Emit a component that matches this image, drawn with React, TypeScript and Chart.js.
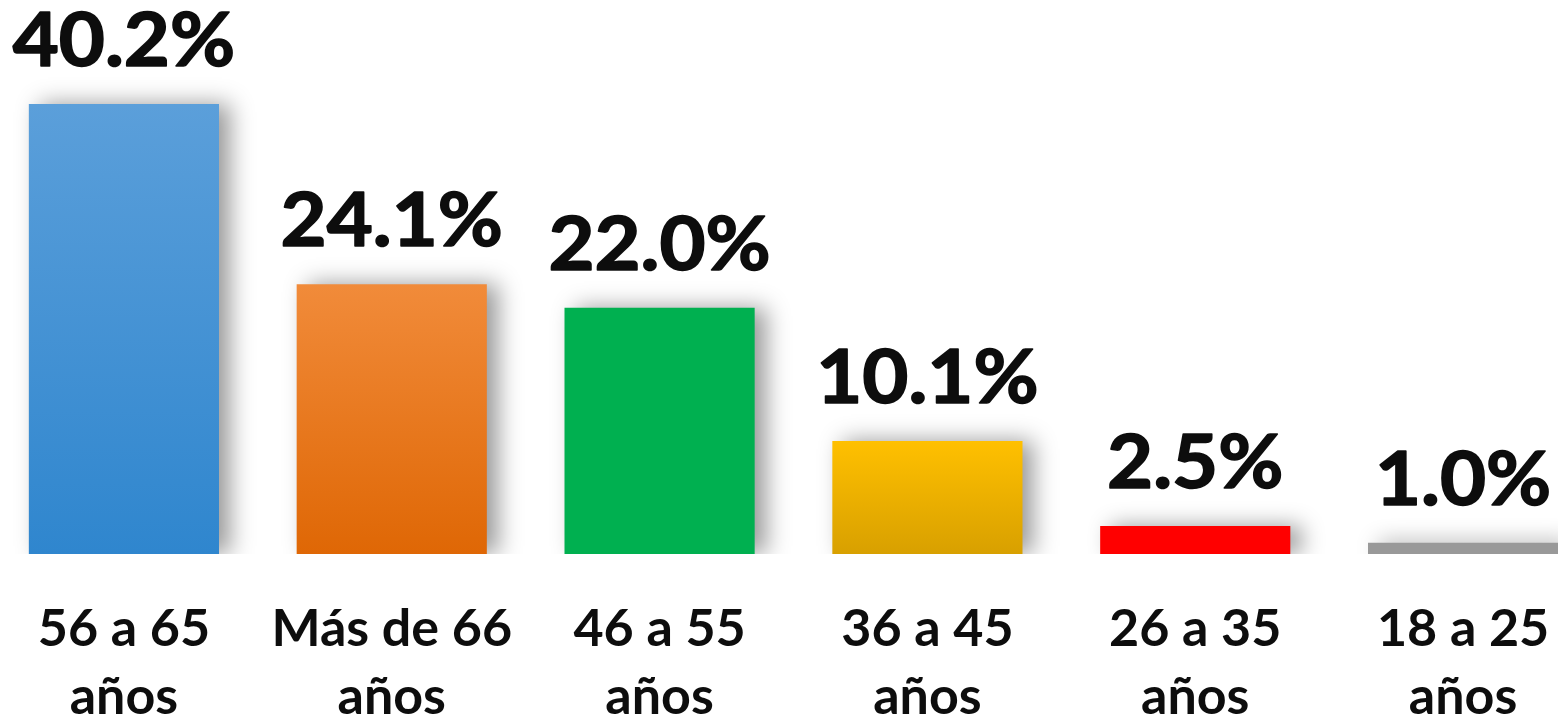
import React, { useEffect, useRef } from "react";
import { Chart, registerables } from "chart.js";

Chart.register(...registerables);

const categories: string[][] = [
  ["56 a 65", "años"],
  ["Más de 66", "años"],
  ["46 a 55", "años"],
  ["36 a 45", "años"],
  ["26 a 35", "años"],
  ["18 a 25", "años"],
];
const values: number[] = [40.2, 24.1, 22.0, 10.1, 2.5, 1.0];
const valueLabels: string[] = ["40.2%", "24.1%", "22.0%", "10.1%", "2.5%", "1.0%"];
const topColors: string[] = ["#5B9FDA", "#F18B3A", "#00B050", "#FFC000", "#FF0000", "#999999"];
const bottomColors: string[] = ["#2F86CE", "#DF6705", "#00B050", "#D8A000", "#FF0000", "#999999"];

const CANVAS_W = 1607;
const CANVAS_H = 719;

const shadowPlugin = {
  id: "barShadow",
  beforeDatasetDraw(chart: any) {
    const ctx = chart.ctx;
    ctx.save();
    ctx.shadowColor = "rgba(0,0,0,0.4)";
    ctx.shadowBlur = 22;
    ctx.shadowOffsetX = 11;
    ctx.shadowOffsetY = 0;
  },
  afterDatasetDraw(chart: any) {
    chart.ctx.restore();
  },
};

const labelPlugin = {
  id: "valueLabels",
  afterDatasetsDraw(chart: any) {
    const ctx = chart.ctx;
    const meta = chart.getDatasetMeta(0);
    ctx.save();
    ctx.fillStyle = "#0d0d0d";
    ctx.strokeStyle = "#0d0d0d";
    ctx.lineWidth = 1.6;
    ctx.lineJoin = "round";
    ctx.font = "bold 75px Lato";
    ctx.textAlign = "center";
    ctx.textBaseline = "alphabetic";
    meta.data.forEach((el: any, i: number) => {
      ctx.save();
      ctx.translate(el.x, el.y - 38);
      ctx.scale(1.06, 1);
      ctx.fillText(valueLabels[i], 0, 0);
      ctx.strokeText(valueLabels[i], 0, 0);
      ctx.restore();
    });
    ctx.restore();
  },
};

export default function App() {
  const ref = useRef<HTMLCanvasElement | null>(null);
  useEffect(() => {
    if (!ref.current) return;
    const chart = new Chart(ref.current, {
      type: "bar",
      data: {
        labels: categories,
        datasets: [
          {
            data: values,
            backgroundColor: (c: any) => {
              const chartObj = c.chart;
              const area = chartObj.chartArea;
              if (!area || c.dataIndex === undefined) return topColors[0];
              const i = c.dataIndex;
              const yScale = chartObj.scales.y;
              const top = yScale.getPixelForValue(values[i]);
              const bottom = yScale.getPixelForValue(0);
              const g = chartObj.ctx.createLinearGradient(0, top, 0, bottom);
              g.addColorStop(0, topColors[i]);
              g.addColorStop(1, bottomColors[i]);
              return g;
            },
            borderWidth: 0,
            categoryPercentage: 1,
            barPercentage: 0.71,
          },
        ],
      },
      options: {
        responsive: false,
        animation: false,
        devicePixelRatio: 1,
        layout: { padding: 0 },
        plugins: {
          legend: { display: false },
          tooltip: { enabled: false },
          title: { display: false },
        },
        scales: {
          x: {
            grid: { display: false, drawTicks: false },
            border: { display: false },
            ticks: {
              autoSkip: false,
              maxRotation: 0,
              minRotation: 0,
              padding: 41,
              color: "#0d0d0d",
              font: { family: "Lato", weight: "bold", size: 52, lineHeight: 1.31 },
            },
            afterFit: (scale: any) => {
              scale.height = 165;
            },
          },
          y: {
            display: false,
            min: 0,
            max: 49.5,
          },
        },
      },
      plugins: [shadowPlugin, labelPlugin],
    });
    return () => chart.destroy();
  }, []);

  return (
    <div
      style={{
        position: "fixed",
        left: 0,
        top: 0,
        width: 1558,
        height: 719,
        overflow: "hidden",
        background: "#ffffff",
      }}
    >
      <canvas
        ref={ref}
        width={CANVAS_W}
        height={CANVAS_H}
        style={{ position: "absolute", left: -10, top: 0, width: CANVAS_W, height: CANVAS_H }}
      />
    </div>
  );
}
